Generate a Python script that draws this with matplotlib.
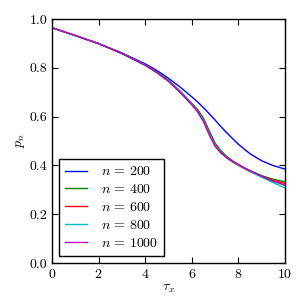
import matplotlib
matplotlib.use("Agg")
import matplotlib.pyplot as plt

plt.rcParams['font.family'] = ['cmr10']
plt.rcParams['mathtext.fontset'] = 'cm'
plt.rcParams['axes.formatter.use_mathtext'] = True
plt.rcParams['font.size'] = 10

tau = [0, 1, 2, 3, 4, 4.5, 5, 5.5, 6, 6.25, 6.5, 6.75, 7, 7.25, 7.5, 7.75, 8, 8.25, 8.5, 9, 9.5, 10]
p200 = [0.964, 0.932, 0.899, 0.861, 0.816, 0.789, 0.757, 0.721, 0.681, 0.660, 0.637, 0.612, 0.586, 0.559, 0.534, 0.510, 0.487, 0.467, 0.448, 0.419, 0.399, 0.385]
p400 = [0.964, 0.932, 0.899, 0.859, 0.812, 0.783, 0.749, 0.705, 0.655, 0.629, 0.594, 0.542, 0.492, 0.460, 0.437, 0.419, 0.404, 0.391, 0.379, 0.358, 0.343, 0.333]
p600 = [0.964, 0.932, 0.899, 0.859, 0.811, 0.781, 0.746, 0.702, 0.652, 0.625, 0.588, 0.535, 0.486, 0.454, 0.431, 0.414, 0.400, 0.387, 0.375, 0.355, 0.338, 0.326]
p800 = [0.964, 0.932, 0.899, 0.859, 0.811, 0.781, 0.746, 0.702, 0.651, 0.623, 0.585, 0.531, 0.483, 0.453, 0.432, 0.416, 0.402, 0.388, 0.375, 0.352, 0.329, 0.308]
p1000 = [0.964, 0.932, 0.899, 0.858, 0.810, 0.780, 0.744, 0.699, 0.648, 0.619, 0.580, 0.525, 0.478, 0.451, 0.432, 0.417, 0.404, 0.390, 0.378, 0.355, 0.335, 0.319]

series = [(p200, 'b', r'$n\,=\,200$'),
          (p400, 'g', r'$n\,=\,400$'),
          (p600, 'r', r'$n\,=\,600$'),
          (p800, 'c', r'$n\,=\,800$'),
          (p1000, 'm', r'$n\,=\,1000$')]

fig = plt.figure(figsize=(3.06, 3.06), dpi=100)
ax = fig.add_axes([0.170, 0.1405, 0.761, 0.7975])
for vals, c, lab in series:
    ax.plot(tau, vals, color=c, lw=1.0, label=lab)

ax.set_xlim(0, 10)
ax.set_ylim(0, 1.0)
ax.set_xticks([0, 2, 4, 6, 8, 10])
ax.set_yticks([0.0, 0.2, 0.4, 0.6, 0.8, 1.0])
ax.set_yticklabels(['0.0', '0.2', '0.4', '0.6', '0.8', '1.0'])
ax.tick_params(direction='in', top=True, right=True, length=4, width=0.8)
for s in ax.spines.values():
    s.set_linewidth(1.0)
ax.set_xlabel(r'$\tau_x$', labelpad=1)
ax.set_ylabel(r'$p_n$', labelpad=2)

leg = ax.legend(loc='lower left', fancybox=False, framealpha=1, edgecolor='black',
                handlelength=1.55, handletextpad=1.0, borderpad=0.45,
                labelspacing=0.35, borderaxespad=0.5)
leg.get_frame().set_linewidth(1.0)

fig.savefig('out.png', dpi=100)
